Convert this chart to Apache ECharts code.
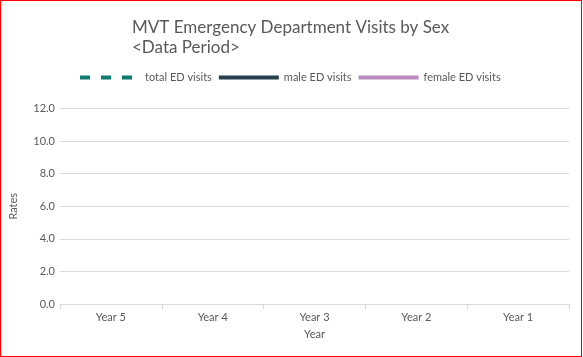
<!DOCTYPE html>
<html>
<head>
<meta charset="utf-8">
<script src="https://cdn.jsdelivr.net/npm/echarts@6/dist/echarts.min.js"></script>
<style>
html,body{margin:0;padding:0;background:#fff;}
#wrap{position:absolute;left:0;top:0;width:582px;height:357px;box-sizing:border-box;border:1px solid #ff0000;}
#chart{position:absolute;left:0;top:0;width:583px;height:357px;}
</style>
</head>
<body>
<div id="chart"></div>
<div id="wrap"></div>
<script>
const categories = ['Year 5', 'Year 4', 'Year 3', 'Year 2', 'Year 1'];
const totalVisits = [];
const maleVisits = [];
const femaleVisits = [];
const yTicks = [0, 2, 4, 6, 8, 10, 12];

const FONT = 'Lato';
const chart = echarts.init(document.getElementById('chart'), null, {renderer: 'canvas'});
chart.setOption({
  animation: false,
  backgroundColor: '#ffffff',
  textStyle: {fontFamily: FONT},
  title: {
    text: 'MVT Emergency Department Visits by Sex\n<Data Period>',
    left: 127,
    top: 13,
    textStyle: {fontFamily: FONT, fontSize: 17, fontWeight: 'normal', color: '#595959', lineHeight: 20}
  },
  legend: {
    left: 78,
    top: 72,
    padding: 0,
    itemWidth: 60,
    itemHeight: 12,
    itemGap: 5,
    textStyle: {fontFamily: FONT, fontSize: 11, color: '#595959'},
    lineStyle: {width: 4},
    itemStyle: {color: 'transparent', borderColor: 'transparent', borderWidth: 0, opacity: 0},
    data: ['total ED visits', 'male ED visits', 'female ED visits']
  },
  grid: {left: 51.5, right: 14, top: 108.5, bottom: 53},
  xAxis: {
    type: 'category',
    data: categories,
    boundaryGap: true,
    name: 'Year',
    nameLocation: 'middle',
    nameGap: 25,
    nameTextStyle: {fontFamily: FONT, fontSize: 11, color: '#595959'},
    axisLine: {lineStyle: {color: '#d9d9d9', width: 1}},
    axisTick: {show: true, length: 5, lineStyle: {color: '#d9d9d9'}},
    axisLabel: {fontFamily: FONT, fontSize: 11, color: '#595959', margin: 8}
  },
  yAxis: {
    type: 'value',
    min: yTicks[0],
    max: yTicks[yTicks.length - 1],
    interval: 2,
    name: 'Rates',
    nameLocation: 'middle',
    nameGap: 41,
    nameTextStyle: {fontFamily: FONT, fontSize: 11, color: '#595959'},
    axisLine: {show: false},
    axisTick: {show: false},
    axisLabel: {fontFamily: FONT, fontSize: 11, color: '#595959', margin: 5, formatter: v => v.toFixed(1)},
    splitLine: {lineStyle: {color: '#d9d9d9', width: 1}}
  },
  series: [
    {name: 'total ED visits', type: 'line', data: totalVisits, symbol: 'none',
     itemStyle: {color: '#0f7a72'}, lineStyle: {color: '#0f7a72', width: 4, type: [10, 11]}},
    {name: 'male ED visits', type: 'line', data: maleVisits, symbol: 'none',
     itemStyle: {color: '#2a3f4d'}, lineStyle: {color: '#2a3f4d', width: 4}},
    {name: 'female ED visits', type: 'line', data: femaleVisits, symbol: 'none',
     itemStyle: {color: '#b98cbd'}, lineStyle: {color: '#b98cbd', width: 4}}
  ]
});
</script>
</body>
</html>
